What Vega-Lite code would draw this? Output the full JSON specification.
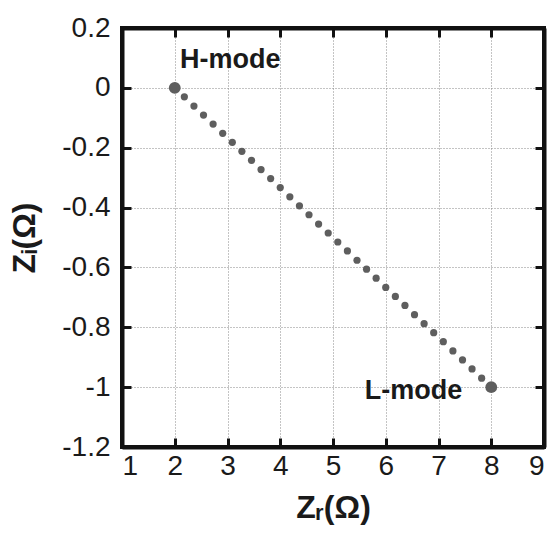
{
  "$schema": "https://vega.github.io/schema/vega-lite/v6.json",
  "width": 422,
  "height": 419,
  "autosize": "none",
  "padding": {"left": 122, "top": 28, "right": 9, "bottom": 86},
  "config": {
    "font": "Liberation Sans",
    "view": {"stroke": null}
  },
  "datasets": {
    "path": [
      {"zr": 2.182, "zi": -0.030}, {"zr": 2.364, "zi": -0.061}, {"zr": 2.545, "zi": -0.091},
      {"zr": 2.727, "zi": -0.121}, {"zr": 2.909, "zi": -0.152}, {"zr": 3.091, "zi": -0.182},
      {"zr": 3.273, "zi": -0.212}, {"zr": 3.455, "zi": -0.242}, {"zr": 3.636, "zi": -0.273},
      {"zr": 3.818, "zi": -0.303}, {"zr": 4.0, "zi": -0.333}, {"zr": 4.182, "zi": -0.364},
      {"zr": 4.364, "zi": -0.394}, {"zr": 4.545, "zi": -0.424}, {"zr": 4.727, "zi": -0.455},
      {"zr": 4.909, "zi": -0.485}, {"zr": 5.091, "zi": -0.515}, {"zr": 5.273, "zi": -0.545},
      {"zr": 5.455, "zi": -0.576}, {"zr": 5.636, "zi": -0.606}, {"zr": 5.818, "zi": -0.636},
      {"zr": 6.0, "zi": -0.667}, {"zr": 6.182, "zi": -0.697}, {"zr": 6.364, "zi": -0.727},
      {"zr": 6.545, "zi": -0.758}, {"zr": 6.727, "zi": -0.788}, {"zr": 6.909, "zi": -0.818},
      {"zr": 7.091, "zi": -0.848}, {"zr": 7.273, "zi": -0.879}, {"zr": 7.455, "zi": -0.909},
      {"zr": 7.636, "zi": -0.939}, {"zr": 7.818, "zi": -0.970}
    ],
    "modes": [
      {"zr": 2, "zi": 0},
      {"zr": 8, "zi": -1}
    ],
    "frame": [{"zr": 1, "zr2": 9, "zi": -1.2, "zi2": 0.2}],
    "hlabel": [{"label": "H-mode", "zr": 2.1, "zi": 0.094}],
    "llabel": [{"label": "L-mode", "zr": 7.45, "zi": -1.012}]
  },
  "layer": [
    {
      "layer": [
        {
          "data": {"name": "path"},
          "mark": {"type": "point", "filled": true, "size": 52, "color": "#5e5e5e", "opacity": 1},
          "encoding": {
            "x": {
              "field": "zr", "type": "quantitative",
              "scale": {"domain": [1, 9], "nice": false, "zero": false},
              "axis": {
                "orient": "bottom", "values": [1, 2, 3, 4, 5, 6, 7, 8, 9],
                "title": "Zᵣ(Ω)", "titleFontSize": 32, "titleFontWeight": "bold", "titleColor": "#1a1a1a", "titlePadding": 12,
                "labelFontSize": 28, "labelColor": "#1a1a1a", "labelPadding": 14,
                "domainWidth": 4, "domainColor": "#111",
                "tickSize": -9, "tickWidth": 3, "tickColor": "#111",
                "grid": true, "gridColor": "#888", "gridDash": [1, 2]
              }
            },
            "y": {
              "field": "zi", "type": "quantitative",
              "scale": {"domain": [-1.2, 0.2], "nice": false, "zero": false},
              "axis": {
                "orient": "left", "values": [-1.2, -1, -0.8, -0.6, -0.4, -0.2, 0, 0.2],
                "labelExpr": "'' + datum.value",
                "title": "Zᵢ(Ω)", "titleFontSize": 32, "titleFontWeight": "bold", "titleColor": "#1a1a1a", "titlePadding": 20,
                "labelFontSize": 28, "labelColor": "#1a1a1a", "labelPadding": 21,
                "domainWidth": 4, "domainColor": "#111",
                "tickSize": -9, "tickWidth": 3, "tickColor": "#111",
                "grid": true, "gridColor": "#888", "gridDash": [1, 2]
              }
            }
          }
        },
        {
          "data": {"name": "frame"},
          "mark": {"type": "rect", "filled": false, "stroke": "#111", "strokeWidth": 4},
          "encoding": {
            "x": {"field": "zr", "type": "quantitative"},
            "x2": {"field": "zr2"},
            "y": {"field": "zi", "type": "quantitative"},
            "y2": {"field": "zi2"}
          }
        },
        {
          "data": {"name": "hlabel"},
          "mark": {"type": "text", "fontSize": 27, "fontWeight": "bold", "color": "#1a1a1a", "baseline": "middle", "align": "left"},
          "encoding": {
            "x": {"field": "zr", "type": "quantitative"},
            "y": {"field": "zi", "type": "quantitative"},
            "text": {"field": "label"}
          }
        },
        {
          "data": {"name": "llabel"},
          "mark": {"type": "text", "fontSize": 27, "fontWeight": "bold", "color": "#1a1a1a", "baseline": "middle", "align": "right"},
          "encoding": {
            "x": {"field": "zr", "type": "quantitative"},
            "y": {"field": "zi", "type": "quantitative"},
            "text": {"field": "label"}
          }
        }
      ]
    },
    {
      "data": {"name": "modes"},
      "mark": {"type": "point", "filled": true, "size": 140, "color": "#5e5e5e", "opacity": 1},
      "encoding": {
        "x": {
          "field": "zr", "type": "quantitative",
          "axis": {"orient": "top", "values": [1, 2, 3, 4, 5, 6, 7, 8, 9], "labels": false, "title": null,
            "domainWidth": 4, "domainColor": "#111",
            "grid": false, "tickSize": -9, "tickWidth": 3, "tickColor": "#111"}
        },
        "y": {
          "field": "zi", "type": "quantitative",
          "axis": {"orient": "right", "values": [-1.2, -1, -0.8, -0.6, -0.4, -0.2, 0, 0.2], "labels": false, "title": null,
            "domainWidth": 4, "domainColor": "#111",
            "grid": false, "tickSize": -9, "tickWidth": 3, "tickColor": "#111"}
        }
      }
    }
  ],
  "resolve": {"axis": {"x": "independent", "y": "independent"}}
}
